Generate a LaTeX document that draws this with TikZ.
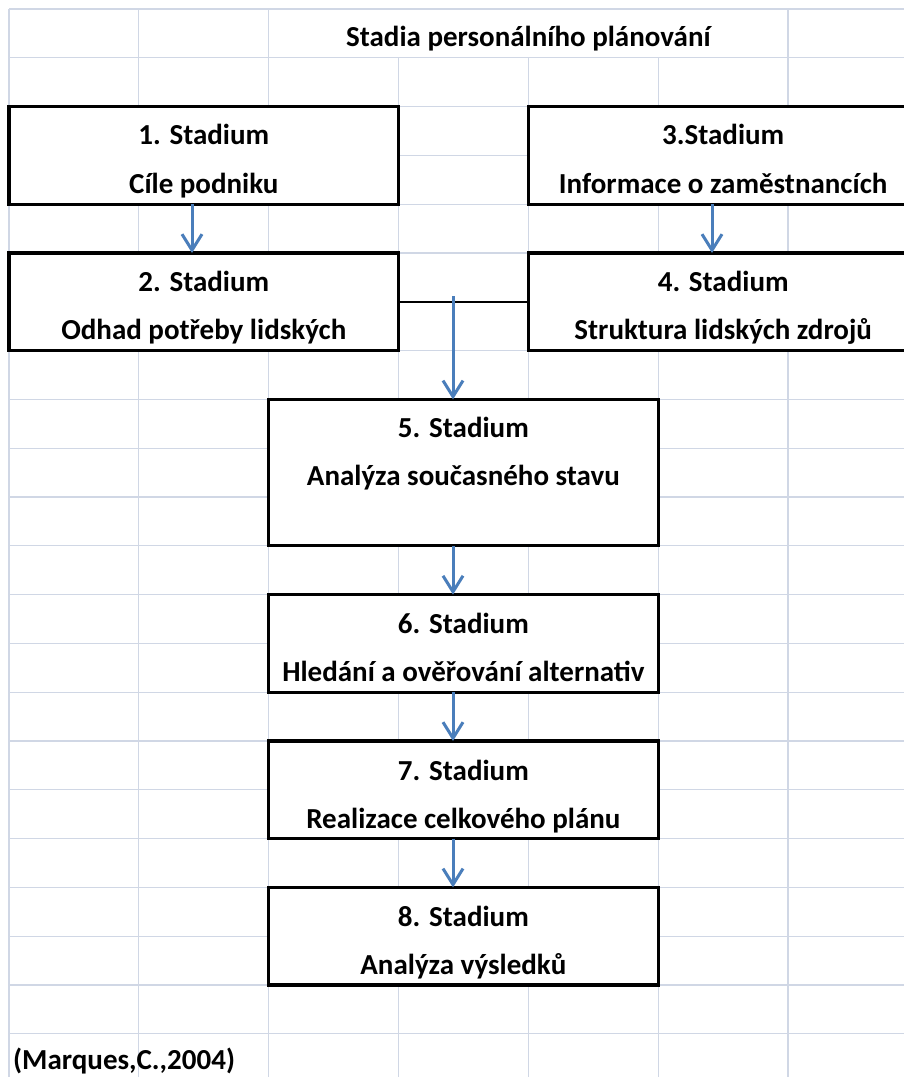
\documentclass[tikz,border=0pt]{standalone}
\usepackage{fontspec}
\setmainfont{Carlito}
\usetikzlibrary{arrows.meta,calc}
\definecolor{gridc}{HTML}{D0D7E5}
\definecolor{arrc}{HTML}{4A7EBB}
\begin{document}
\begin{tikzpicture}[x=1pt,y=-1pt,
  box/.style={draw=black, line width=3.2pt, fill=white, inner sep=0pt, outer sep=0pt, anchor=north west, minimum width=389.5pt},
  lbl/.style={font=\bfseries\fontsize{29}{30}\selectfont, anchor=base, inner sep=0pt},
  arr/.style={draw=arrc, line width=3pt, -{Straight Barb[length=16pt,width=20pt,line width=3pt]}},
  gridl/.style={draw=gridc, line width=1.3pt},
  conn/.style={draw=black, line width=1.6pt}]
\useasboundingbox (0,0) rectangle (904,1077);
\clip (0,0) rectangle (904,1077);
\fill[white] (0,0) rectangle (904,1077);
% grid
\foreach \j in {0,...,21} {\draw[gridl] (9,{9+48.8*\j}) -- (904,{9+48.8*\j});}
\foreach \i in {0,1,2,6} {\draw[gridl] ({9+129.83*\i},9) -- ({9+129.83*\i},1077);}
\foreach \i in {3,4,5} {\draw[gridl] ({9+129.83*\i},57.8) -- ({9+129.83*\i},1077);}
% boxes
\node[box, minimum height=97.6pt] (b1) at (9,106.6) {};
\node[box, minimum height=97.6pt] (b2) at (9,253) {};
\node[box, minimum height=97.6pt] (b3) at (528.3,106.6) {};
\node[box, minimum height=97.6pt] (b4) at (528.3,253) {};
\node[box, minimum height=146.4pt] (b5) at (268.7,399.4) {};
\node[box, minimum height=97.6pt] (b6) at (268.7,594.6) {};
\node[box, minimum height=97.6pt] (b7) at (268.7,741) {};
\node[box, minimum height=97.6pt] (b8) at (268.7,887.4) {};
% texts
\node[lbl] (title) at (528.3,46) {Stadia personálního plánování};
\node[lbl] (t1a) at (203.8,144.5) {1. Stadium};
\node[lbl] (t1b) at (203.8,193) {Cíle podniku};
\node[lbl] (t2a) at (203.8,291.5) {2. Stadium};
\node[lbl] (t2b) at (203.8,339.5) {Odhad potřeby lidských};
\node[lbl] (t3a) at (723.2,144.5) {3.Stadium};
\node[lbl] (t3b) at (723.2,193) {Informace o zaměstnancích};
\node[lbl] (t4a) at (723.2,291.5) {4. Stadium};
\node[lbl] (t4b) at (723.2,339.5) {Struktura lidských zdrojů};
\node[lbl] (t5a) at (463.4,437) {5. Stadium};
\node[lbl] (t5b) at (463.4,485) {Analýza současného stavu};
\node[lbl] (t6a) at (463.4,633) {6. Stadium};
\node[lbl] (t6b) at (463.4,681.5) {Hledání a ověřování alternativ};
\node[lbl] (t7a) at (463.4,780) {7. Stadium};
\node[lbl] (t7b) at (463.4,828) {Realizace celkového plánu};
\node[lbl] (t8a) at (463.4,926) {8. Stadium};
\node[lbl] (t8b) at (463.4,974.5) {Analýza výsledků};
\node[lbl, anchor=base west] (cite) at (13,1069) {(Marques,C.,2004)};
% connectors
\coordinate (a1) at (192,0);
\coordinate (a3) at (712,0);
\coordinate (s5) at (453,296);
\draw[arr] (b1.south -| a1) -- (b2.north -| a1);
\draw[arr] (b3.south -| a3) -- (b4.north -| a3);
\draw[conn] (b2.east) -- (b4.west);
\draw[arr] (s5) -- (b5.north -| s5);
\draw[arr] (b5.south -| s5) -- (b6.north -| s5);
\draw[arr] (b6.south -| s5) -- (b7.north -| s5);
\draw[arr] (b7.south -| s5) -- (b8.north -| s5);
\end{tikzpicture}
\end{document}
